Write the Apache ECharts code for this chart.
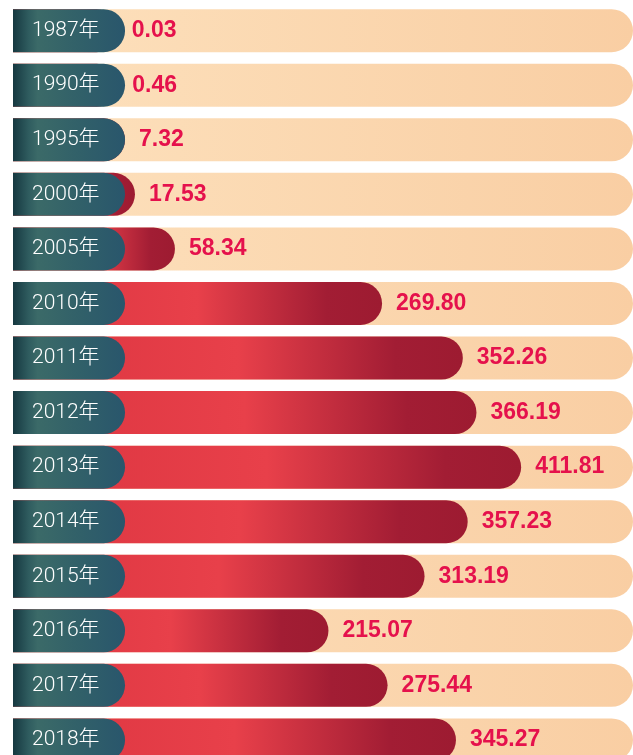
<!DOCTYPE html>
<html>
<head>
<meta charset="utf-8">
<script src="https://cdn.jsdelivr.net/npm/echarts@6/dist/echarts.min.js"></script>
<style>
html, body { margin: 0; padding: 0; background: #fff; }
#chart { width: 633px; height: 755px; }
</style>
</head>
<body>
<div id="chart"></div>
<script>
// 数据
const years = ['1987年', '1990年', '1995年', '2000年', '2005年', '2010年', '2011年',
    '2012年', '2013年', '2014年', '2015年', '2016年', '2017年', '2018年'];
const values = [0.03, 0.46, 7.32, 17.53, 58.34, 269.80, 352.26,
    366.19, 411.81, 357.23, 313.19, 215.07, 275.44, 345.27];

// 轴范围 (左侧留出年份标签的位置)
const AXIS_MIN = -107;
const AXIS_MAX = 526;
const TAG_END = 7.4;

const chart = echarts.init(document.getElementById('chart'));

const radius = [0, 22, 22, 0];

chart.setOption({
    animation: false,
    grid: { left: 13, right: 0, top: 3.4, height: 763.8, outerBoundsMode: 'none' },
    xAxis: {
        type: 'value',
        min: AXIS_MIN,
        max: AXIS_MAX,
        startValue: AXIS_MIN,
        show: false
    },
    yAxis: {
        type: 'category',
        inverse: true,
        data: years,
        show: false
    },
    series: [
        {
            // 背景条
            type: 'bar',
            data: years.map(() => AXIS_MAX),
            barWidth: 43,
            barGap: '-100%',
            silent: true,
            itemStyle: {
                borderRadius: radius,
                color: new echarts.graphic.LinearGradient(0, 0, 1, 0, [
                    { offset: 0, color: '#fde1bd' },
                    { offset: 1, color: '#f9cea3' }
                ])
            }
        },
        {
            // 数值条
            type: 'bar',
            data: values,
            barWidth: 43,
            barGap: '-100%',
            itemStyle: {
                borderRadius: radius,
                color: new echarts.graphic.LinearGradient(0, 0, 1, 0, [
                    { offset: 0, color: '#dc3540' },
                    { offset: 0.5, color: '#e8404a' },
                    { offset: 0.85, color: '#a21d34' },
                    { offset: 1, color: '#9d1b31' }
                ])
            },
            label: {
                show: true,
                position: 'right',
                distance: 14,
                color: '#e5114c',
                fontSize: 23,
                fontWeight: 'bold',
                fontFamily: '"Liberation Sans", Arial, sans-serif',
                formatter: p => p.value.toFixed(2)
            }
        },
        {
            // 年份标签
            type: 'bar',
            data: years.map(() => TAG_END),
            barWidth: 43,
            barGap: '-100%',
            silent: true,
            itemStyle: {
                borderRadius: radius,
                color: new echarts.graphic.LinearGradient(0, 0, 1, 0, [
                    { offset: 0, color: '#163840' },
                    { offset: 0.14, color: '#2f5c5f' },
                    { offset: 0.22, color: '#3b6a68' },
                    { offset: 0.6, color: '#316069' },
                    { offset: 1, color: '#29566c' }
                ])
            },
            label: {
                show: true,
                position: 'insideLeft',
                distance: 19,
                color: '#fff',
                fontSize: 21,
                fontWeight: 300,
                fontFamily: 'Roboto, "Noto Sans CJK SC", sans-serif',
                formatter: '{b}'
            }
        }
    ]
});

window.addEventListener('resize', () => chart.resize());
</script>
</body>
</html>
